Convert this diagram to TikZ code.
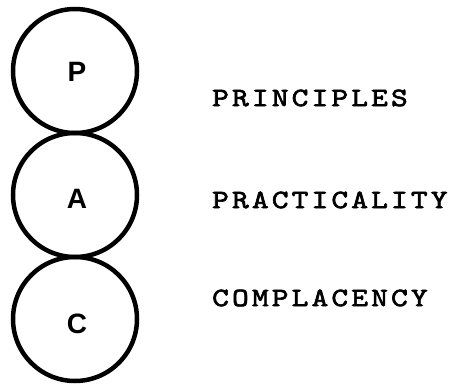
\documentclass[tikz,border=0pt]{standalone}
\usepackage{fontspec}
\setsansfont{Liberation Sans}
\newfontfamily\typefont{lmmono10-regular.otf}[LetterSpace=12,FakeStretch=1.2,FakeBold=2.5]
\usetikzlibrary{positioning}

\begin{document}
\begin{tikzpicture}[x=1pt,y=-1pt,
  ring/.style={draw,circle,line width=4.5pt,minimum size=124pt,inner sep=0pt},
  letter/.style={inner sep=0pt,font=\fontsize{28}{28}\selectfont\sffamily\bfseries},
  word/.style={inner sep=0pt,anchor=west,font=\fontsize{26.5}{26.5}\selectfont\typefont}]
\useasboundingbox (0,0) rectangle (450,388);

\node[ring] (ringP) at (75,71) {};
\node[ring] (ringA) at (75,195) {};
\node[ring] (ringC) at (75,319) {};

\node[letter] (P) at ([xshift=2pt,yshift=-1pt]ringP.center) {P};
\node[letter] (A) at ([xshift=2pt,yshift=-4pt]ringA.center) {A};
\node[letter] (C) at ([xshift=2pt,yshift=-5pt]ringC.center) {C};

\node[word] (principles) at (212,98) {PRINCIPLES};
\node[word] (practicality) at (212,200) {PRACTICALITY};
\node[word] (complacency) at (212,298) {COMPLACENCY};

\end{tikzpicture}
\end{document}
